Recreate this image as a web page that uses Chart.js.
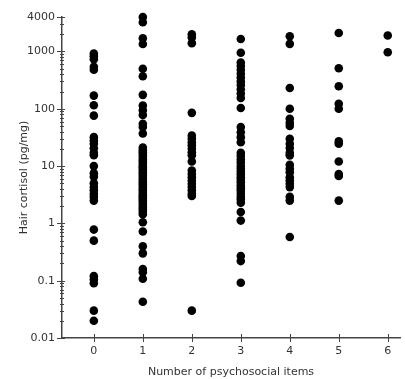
<!DOCTYPE html>
<html>
<head>
<meta charset="utf-8">
<script src="https://cdn.jsdelivr.net/npm/chart.js@4.4.1/dist/chart.umd.min.js"></script>
<style>
  html, body { margin: 0; padding: 0; background: #fff; }
  #wrap { width: 405px; height: 379px; }
</style>
</head>
<body>
<div id="wrap"><canvas id="scatter"></canvas></div>
<script>
// number of psychosocial items (x categories)
const categories = [0, 1, 2, 3, 4, 5, 6];

// hair cortisol values (pg/mg) read per column
const items0 = [920, 830, 730, 540, 480, 170, 115, 76, 32, 28, 24.5, 20.5, 17, 15.5,
  10, 7.5, 6.5, 5.0, 4.3, 3.8, 3.3, 2.9, 2.5, 0.78, 0.5, 0.12, 0.105, 0.09, 0.03, 0.02];
const items1 = [4000, 3250, 1700, 1350, 500, 370, 175, 114, 94, 78, 55, 48, 37,
  21, 19, 17.5, 16, 14.5, 13, 12, 11, 10, 9.5, 8.8, 8, 7.4, 6.8, 6.2, 5.7, 5.2, 4.8,
  4.4, 4, 3.7, 3.4, 3.1, 2.9, 2.7, 2.5, 2.3, 2.1, 1.9, 1.75, 1.6, 1.45,
  1.05, 0.72, 0.4, 0.3, 0.16, 0.14, 0.108, 0.043];
const items2 = [2000, 1750, 1400, 85, 34, 30, 26, 23, 20, 17.5, 15.4, 12,
  8.4, 7.3, 6.4, 5.6, 4.9, 4.3, 3.8, 3.3, 3.0, 0.03];
const items3 = [1650, 950, 640, 560, 480, 410, 350, 300, 260, 220, 185, 155, 103,
  48, 39, 32, 26, 17, 15, 13, 11.5, 10, 9, 8, 7.2, 6.4, 5.8, 5.2, 4.6, 4.1, 3.7,
  3.3, 2.9, 2.6, 2.3, 1.58, 1.12, 0.27, 0.22, 0.092];
const items4 = [1850, 1360, 230, 100, 67, 57, 50, 30, 24.5, 20.6, 17, 15.4,
  10.5, 9, 7.8, 6.4, 5.6, 4.9, 4.3, 2.9, 2.5, 0.58];
const items5 = [2100, 510, 248, 122, 100, 27, 24.5, 12, 7.3, 6.7, 2.5];
const items6 = [1900, 970];

const columns = [items0, items1, items2, items3, items4, items5, items6];

// y tick labels
const yMajor = [0.01, 0.1, 1, 10, 100, 1000, 4000];
const yMinor = [];
[0.01, 0.1, 1, 10, 100].forEach(d => {
  for (let k = 2; k <= 9; k++) yMinor.push(+(d * k).toPrecision(3));
});
yMinor.push(2000, 3000);

const points = [];
columns.forEach((vals, i) => vals.forEach(v => points.push({ x: categories[i], y: v })));

const axisColor = '#444';
const textColor = '#333';
const font = { family: 'DejaVu Sans', size: 11 };

// draws ticks that cross the axis line, like the original
const crossTicks = {
  id: 'crossTicks',
  afterDraw(chart) {
    const ctx = chart.ctx;
    const xs = chart.scales.x, ys = chart.scales.y;
    const ax = chart.chartArea.left, ay = chart.chartArea.bottom;
    ctx.save();
    ctx.strokeStyle = axisColor;
    ctx.lineWidth = 1;
    ctx.beginPath();
    ys.ticks.forEach(t => {
      const py = Math.round(ys.getPixelForValue(t.value)) + 0.5;
      const major = yMajor.includes(t.value);
      ctx.moveTo(ax - (major ? 5 : 2), py);
      ctx.lineTo(ax + (major ? 3 : 2), py);
    });
    xs.ticks.forEach(t => {
      const px = Math.round(xs.getPixelForValue(t.value)) + 0.5;
      ctx.moveTo(px, ay - 4);
      ctx.lineTo(px, ay + 4);
    });
    ctx.stroke();
    ctx.restore();
  }
};

new Chart(document.getElementById('scatter'), {
  type: 'scatter',
  data: {
    datasets: [{
      data: points,
      backgroundColor: '#000',
      borderWidth: 0,
      pointRadius: 4.3,
      pointHoverRadius: 4.3,
      clip: false
    }]
  },
  options: {
    responsive: true,
    maintainAspectRatio: false,
    animation: false,
    layout: { padding: { top: 17, right: 5, left: 0, bottom: 0 } },
    plugins: { legend: { display: false }, tooltip: { enabled: false } },
    scales: {
      x: {
        type: 'linear',
        min: -0.65,
        max: 6.25,
        afterBuildTicks: s => { s.ticks = categories.map(v => ({ value: v })); },
        afterFit: s => { s.height = 41; },
        grid: { display: false, drawTicks: false },
        border: { display: true, color: axisColor, width: 1.5 },
        ticks: { color: textColor, font: font, padding: 7, autoSkip: false, maxRotation: 0,
          callback: v => String(v) },
        title: { display: true, text: 'Number of psychosocial items', color: textColor,
          font: font, padding: { top: 7, bottom: 0 } }
      },
      y: {
        type: 'logarithmic',
        min: 0.01,
        max: 4000,
        afterBuildTicks: s => {
          s.ticks = yMajor.concat(yMinor).sort((a, b) => a - b).map(v => ({ value: v }));
        },
        afterFit: s => { s.width = 62; },
        grid: { display: false, drawTicks: false },
        border: { display: true, color: axisColor, width: 1.5 },
        ticks: { color: textColor, font: font, padding: 7, autoSkip: false,
          callback: v => yMajor.includes(v) ? String(v) : '' },
        title: { display: true, text: 'Hair cortisol (pg/mg)', color: textColor,
          font: font, padding: { top: 18, bottom: 0 } }
      }
    }
  },
  plugins: [crossTicks]
});
</script>
</body>
</html>
